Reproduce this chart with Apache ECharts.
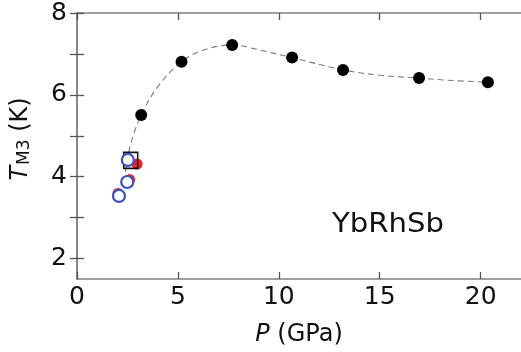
<!DOCTYPE html>
<html>
<head>
<meta charset="utf-8">
<script src="https://cdn.jsdelivr.net/npm/echarts@6/dist/echarts.min.js"></script>
<style>
html,body{margin:0;padding:0;background:#fff;}
#c{width:521px;height:352px;}
</style>
</head>
<body>
<div id="c"></div>
<script>
// Data
var blackPts = [[3.18,5.51],[5.18,6.81],[7.69,7.22],[10.66,6.91],[13.18,6.61],[16.95,6.41],[20.36,6.31]];
var bluePts = [[2.52,4.41],[2.49,3.87],[2.08,3.53]];
var redPts = [[2.98,4.31],[2.61,3.93],[2.03,3.59]];
var squarePts = [[2.66,4.40]];
var curvePts = [[2.36,3.87],[2.42,4.2],[2.52,4.47],[2.64,4.76],[2.85,5.1],[3.18,5.51],[4.0,6.2],[5.18,6.81],[6.3,7.1],[7.69,7.22],[9.0,7.1],[10.66,6.91],[13.18,6.61],[15.0,6.48],[16.95,6.41],[18.6,6.35],[20.36,6.31]];
var xTicks = [0,5,10,15,20];
var yTicks = [2,3,4,5,6,7,8];
var yLabels = [2,4,6,8];

var FONT = 'DejaVu Sans';
var axisCol = '#808080';
var chart = echarts.init(document.getElementById('c'), null, {renderer:'canvas'});
function tickStyle(vals){return {show:true, inside:true, length:7, customValues:vals, lineStyle:{color:'#555', width:1.3}};}
var lineStyle = {show:true, lineStyle:{color:axisCol, width:1.5}};
chart.setOption({
  animation:false,
  backgroundColor:'#fff',
  grid:{left:77, top:13, width:446, height:268},
  xAxis:[{
    type:'value', min:0, max:22, position:'bottom',
    axisLine:lineStyle, axisTick:tickStyle(xTicks), splitLine:{show:false},
    axisLabel:{margin:6, customValues:xTicks, fontFamily:FONT, fontSize:25, color:'#111'},
    name:'{i|P} (GPa)', nameLocation:'middle', nameGap:44,
    nameTextStyle:{fontFamily:FONT, fontSize:24, color:'#111',
      rich:{i:{fontFamily:FONT, fontSize:24, fontStyle:'italic', color:'#111'}}}
  },{
    type:'value', min:0, max:22, position:'top',
    axisLine:lineStyle, axisTick:tickStyle(xTicks), splitLine:{show:false}, axisLabel:{show:false}
  }],
  yAxis:[{
    type:'value', min:1.5, max:8, position:'left',
    axisLine:lineStyle, axisTick:tickStyle(yTicks), splitLine:{show:false},
    axisLabel:{margin:10, customValues:yLabels, fontFamily:FONT, fontSize:25, color:'#111'},
    name:'{i|T}{s|M3}{n| (K)}', nameLocation:'middle', nameGap:44, nameRotate:90,
    nameTextStyle:{fontFamily:FONT, fontSize:24, color:'#111', padding:[0,0,0,14],
      rich:{i:{fontFamily:FONT, fontSize:24, fontStyle:'italic', color:'#111'},
            s:{fontFamily:FONT, fontSize:17, color:'#111', verticalAlign:'bottom', padding:[0,0,0,1]},
            n:{fontFamily:FONT, fontSize:24, color:'#111'}}}
  },{
    type:'value', min:1.5, max:8, position:'right',
    axisLine:lineStyle, axisTick:tickStyle(yTicks), splitLine:{show:false}, axisLabel:{show:false}
  }],
  graphic:[{
    type:'text', x:388, y:225, scaleX:1.12, z:10,
    style:{text:'YbRhSb', x:0, y:0, textAlign:'center', textVerticalAlign:'middle',
      font:'26px "DejaVu Sans"', fill:'#111'}
  }],
  series:[{
    type:'line', data:curvePts, smooth:0.35, showSymbol:false, z:1, silent:true,
    lineStyle:{color:'#7a7a7a', width:1.1, type:[6,4]}
  },{
    type:'scatter', data:redPts, symbolSize:11, z:2,
    itemStyle:{color:'#e8262a', opacity:1}
  },{
    type:'scatter', data:squarePts, symbol:'rect', symbolSize:[14,16], z:3,
    itemStyle:{color:'rgba(0,0,0,0)', borderColor:'#111', borderWidth:1.6, opacity:1}
  },{
    type:'scatter', data:bluePts, symbolSize:12, z:4,
    itemStyle:{color:'#ffffff', borderColor:'#3d4fc2', borderWidth:2.2, opacity:1}
  },{
    type:'scatter', data:blackPts, symbolSize:12, z:5,
    itemStyle:{color:'#000', opacity:1}
  }]
});
</script>
</body>
</html>
